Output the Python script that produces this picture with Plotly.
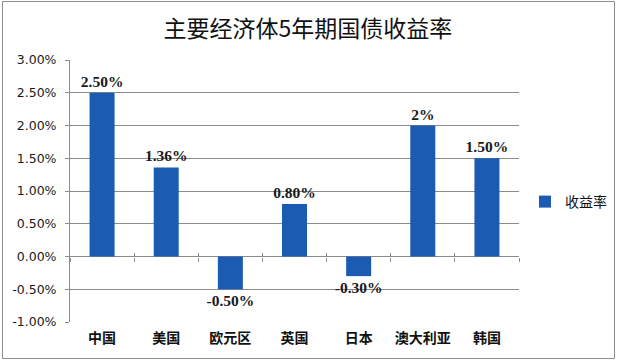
import plotly.graph_objects as go

categories = ["中国", "美国", "欧元区", "英国", "日本", "澳大利亚", "韩国"]
values = [2.50, 1.36, -0.50, 0.80, -0.30, 2.00, 1.50]
value_labels = ["2.50%", "1.36%", "-0.50%", "0.80%", "-0.30%", "2%", "1.50%"]
tick_vals = [-1.0, -0.5, 0.0, 0.5, 1.0, 1.5, 2.0, 2.5, 3.0]
tick_text = ["-1.00%", "-0.50%", "0.00%", "0.50%", "1.00%", "1.50%", "2.00%", "2.50%", "3.00%"]
series_name = "收益率"
title = "主要经济体5年期国债收益率"

W, H = 617, 363
L, R, T, B = 70, 98, 60, 41
pw, ph = W - L - R, H - T - B

bar_color = "#1B5BB1"
grid_color = "#8C8C8C"

fig = go.Figure()
fig.add_trace(go.Bar(
    x=categories, y=values, name=series_name,
    marker=dict(color=bar_color, line=dict(width=0)),
    text=value_labels, textposition="outside",
    textfont=dict(family="Liberation Serif, DejaVu Serif, serif", size=15.5, color="#1a1a1a"),
    texttemplate="<b>%{text}</b>",
    constraintext="none",
    cliponaxis=False,
    showlegend=True,
))

n = len(categories)
boundaries = [i - 0.5 for i in range(n + 1)]

fig.update_layout(
    width=W, height=H,
    margin=dict(l=L, r=R, t=T, b=B, autoexpand=False),
    paper_bgcolor="white", plot_bgcolor="white",
    bargap=0.61,
    title=dict(text=title, x=308 / W, xanchor="center", y=1 - 29 / H, yanchor="middle",
               font=dict(family="Noto Sans CJK SC", size=23, color="#111111")),
    font=dict(family="Noto Sans CJK SC", color="#222222"),
    xaxis=dict(
        type="category", range=[-0.5, n - 0.5],
        showline=False, showgrid=False, ticks="",
        tickfont=dict(family="Noto Sans CJK SC", size=14, color="#111111"),
        tickprefix="<b>", ticksuffix="</b>",
        ticklabelstandoff=6,
    ),
    xaxis2=dict(
        overlaying="x", matches="x", anchor="free", position=1.0 / 4.0,
        type="category", showticklabels=False, showline=False, showgrid=False,
        tickmode="array", tickvals=boundaries, ticks="outside", ticklen=4,
        tickcolor=grid_color, tickwidth=1,
    ),
    xaxis3=dict(
        overlaying="x", matches="x", anchor="free", position=1.0 / 4.0,
        type="category", showticklabels=False, showline=False, showgrid=False,
        tickmode="array", tickvals=boundaries, ticks="inside", ticklen=4,
        tickcolor=grid_color, tickwidth=1,
    ),
    yaxis=dict(
        range=[-1.0, 3.0], tickmode="array", tickvals=tick_vals, ticktext=tick_text,
        showgrid=True, gridcolor=grid_color, gridwidth=1,
        zeroline=True, zerolinecolor=grid_color, zerolinewidth=1,
        showline=True, linecolor=grid_color, linewidth=1,
        ticks="outside", ticklen=4, tickcolor=grid_color,
        tickfont=dict(family="DejaVu Sans", size=12.5, color="#1a1a1a"),
        ticklabelstandoff=6,
    ),
    legend=dict(
        x=(525 - L) / pw, xanchor="left", y=(H - B - 202) / ph, yanchor="middle",
        font=dict(family="Noto Sans CJK SC", size=14, color="#111111"),
        bgcolor="rgba(0,0,0,0)", itemwidth=30,
    ),
    shapes=[dict(
        type="rect", xref="paper", yref="paper",
        x0=(2.5 - L) / pw, x1=(614.5 - L) / pw,
        y0=(H - B - 358.5) / ph, y1=(H - B - 1.5) / ph,
        line=dict(color="#8C8C8C", width=1), fillcolor="rgba(0,0,0,0)", layer="below",
    )],
)

fig.add_trace(go.Scatter(x=categories, y=values, xaxis="x2", mode="none", showlegend=False, hoverinfo="skip"))
fig.add_trace(go.Scatter(x=categories, y=values, xaxis="x3", mode="none", showlegend=False, hoverinfo="skip"))

fig.write_html(
    "out.html",
    config={"displayModeBar": False},
    post_script="document.body.style.margin='0';document.body.style.padding='0';document.body.style.overflow='hidden';",
)
